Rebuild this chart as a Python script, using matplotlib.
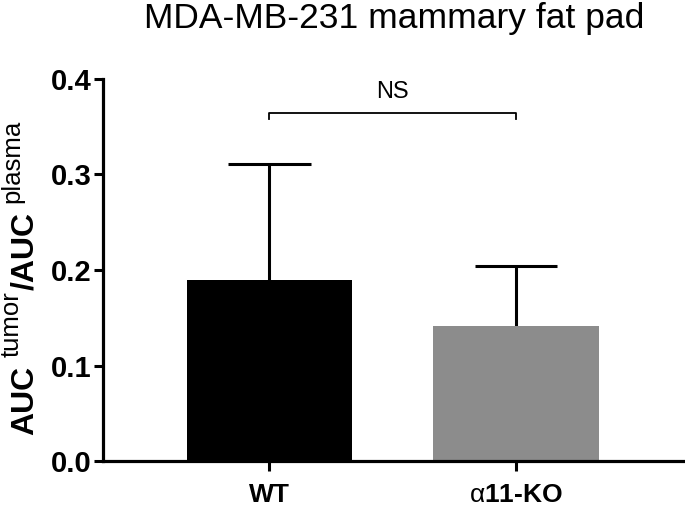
import matplotlib
matplotlib.use("Agg")
import matplotlib.pyplot as plt

groups = ["WT", r"$\mathrm{\alpha}$11-KO"]
means = [0.190, 0.141]
errs = [0.121, 0.063]
colors = ["black", "#8c8c8c"]
yticks = [0.0, 0.1, 0.2, 0.3, 0.4]
ns_level = 0.364
ylabel_parts = ["AUC", "tumor", "/AUC", "plasma"]

plt.rcParams["font.family"] = ["Liberation Sans", "DejaVu Sans"]
plt.rcParams["mathtext.fontset"] = "custom"
plt.rcParams["mathtext.rm"] = "Liberation Sans"
plt.rcParams["mathtext.bf"] = "Liberation Sans:bold"
plt.rcParams["mathtext.it"] = "Liberation Sans:italic"

W, H = 685, 508
fig = plt.figure(figsize=(W / 100, H / 100), dpi=100)
ax = fig.add_axes([0.150, 0.0925, 0.847, 0.752])

x = list(range(len(groups)))
bw = 0.67
ax.bar(x, means, width=bw, color=colors, zorder=2)
# upward-only error bars with caps half the bar width
tops = [m + e for m, e in zip(means, errs)]
ax.vlines(x, means, tops, color="black", lw=2.2, zorder=1)
ax.hlines(tops, [i - bw / 4 for i in x], [i + bw / 4 for i in x], color="black", lw=2.2, zorder=1)

# NS bracket
ax.plot([0, 0, 1, 1], [ns_level - 0.006, ns_level, ns_level, ns_level - 0.006],
        color="black", lw=1.3, clip_on=False)
ax.text(0.5, 0.386, "NS", ha="center", va="center", fontsize=17)

ax.set_xlim(-0.675, 1.677)
ax.set_ylim(0, 0.4)
ax.set_yticks(yticks)
ax.set_yticklabels(["%.1f" % v for v in yticks], fontsize=21, fontweight="bold")
ax.set_xticks(x)
ax.set_xticklabels(groups, fontsize=19, fontweight="bold")
ax.tick_params(axis="y", length=6.5, width=2.2, pad=1.5)
ax.tick_params(axis="x", length=7, width=2.2, pad=9)

for s in ["top", "right"]:
    ax.spines[s].set_visible(False)
for s in ["left", "bottom"]:
    ax.spines[s].set_linewidth(2.3)

fig.text(0.576, 0.945, "MDA-MB-231 mammary fat pad", ha="center", va="baseline", fontsize=25.5)

# y label built piece by piece: bold base text, regular superscripts
renderer = fig.canvas.get_renderer()
base_x = 33
ypos = H - 435
for i, part in enumerate(ylabel_parts):
    sup = i % 2 == 1
    if sup:
        ypos += 9
    t = fig.text((base_x - (14 if sup else 0)) / W, ypos / H, part,
                 rotation=90, rotation_mode="anchor", ha="left", va="baseline",
                 fontsize=18.5 if sup else 23, fontweight="normal" if sup else "bold")
    ypos += t.get_window_extent(renderer).height
    if sup:
        ypos += 1

fig.savefig("out.png", dpi=100)
